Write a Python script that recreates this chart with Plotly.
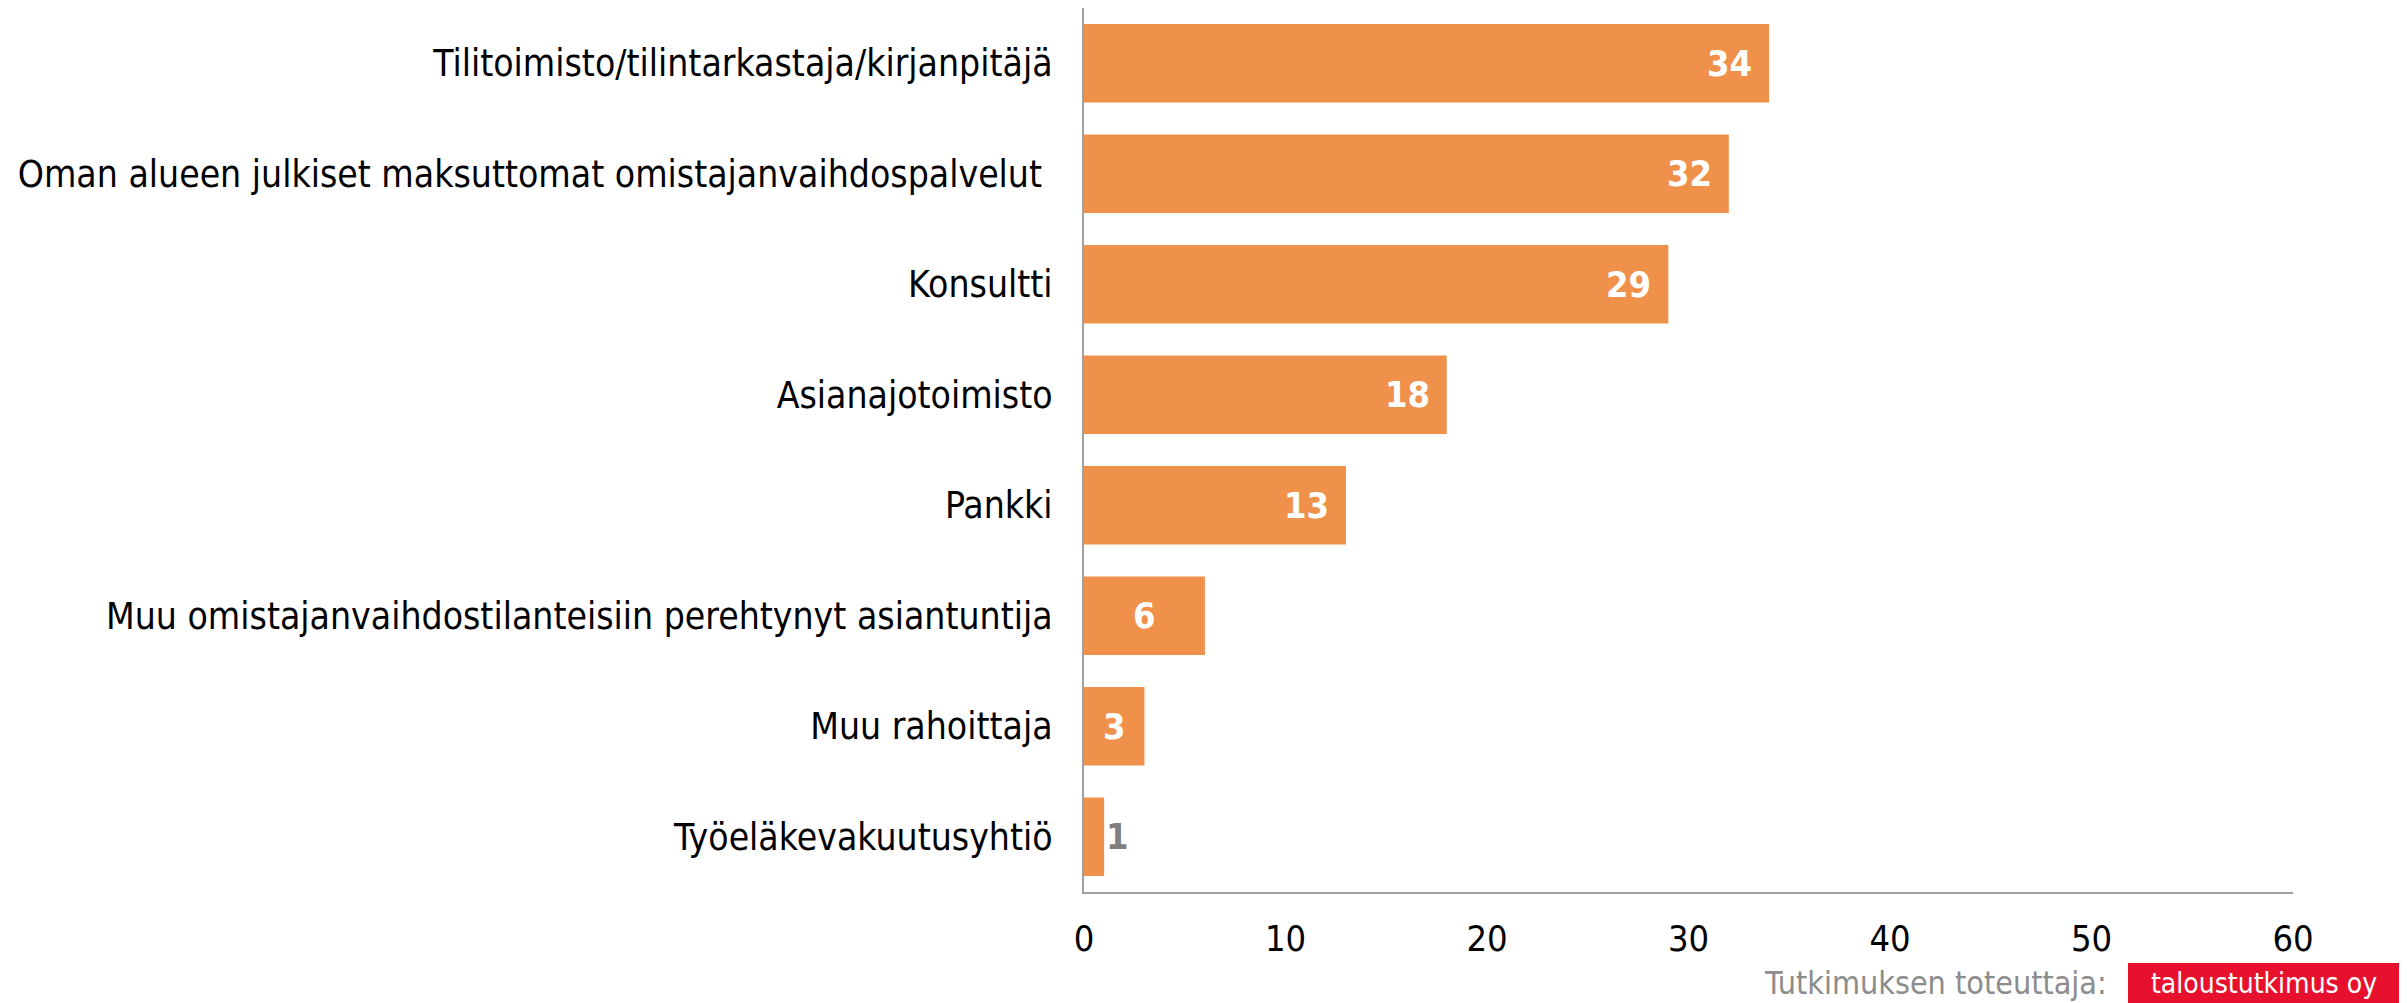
"""Horizontal bar chart: who helped with the ownership change."""
import plotly.graph_objects as go

categories = [
    "Tilitoimisto/tilintarkastaja/kirjanpitäjä",
    "Oman alueen julkiset maksuttomat omistajanvaihdospalvelut ",
    "Konsultti",
    "Asianajotoimisto",
    "Pankki",
    "Muu omistajanvaihdostilanteisiin perehtynyt asiantuntija",
    "Muu rahoittaja",
    "Työeläkevakuutusyhtiö",
]
values = [34, 32, 29, 18, 13, 6, 3, 1]
x_ticks = [0, 10, 20, 30, 40, 50, 60]

BAR_COLOR = "#F0914B"
AXIS_COLOR = "#A0A0A0"
FONT = "DejaVu Sans Condensed, Lato"

fig = go.Figure()
fig.add_trace(go.Bar(
    x=values,
    y=categories,
    orientation="h",
    marker=dict(color=BAR_COLOR, line=dict(width=0)),
    hoverinfo="x+y",
))

# value labels: inside end for wide bars, centred for narrow ones, outside for tiny
for cat, val in zip(categories, values):
    if val >= 10:
        fig.add_annotation(x=val, y=cat, text=str(val), showarrow=False,
                           xanchor="right", xshift=-15,
                           font=dict(family=FONT, size=36, color="white", weight="bold"))
    elif val >= 3:
        fig.add_annotation(x=val / 2, y=cat, text=str(val), showarrow=False,
                           xanchor="center",
                           font=dict(family=FONT, size=36, color="white", weight="bold"))
    else:
        fig.add_annotation(x=val, y=cat, text=str(val), showarrow=False,
                           xanchor="left", xshift=0,
                           font=dict(family=FONT, size=36, color="#7F7F7F", weight="bold"))

# page body has an 8px margin, so the figure is a bit smaller than the window
fig.update_layout(
    width=2399,
    height=995,
    margin=dict(l=1076, r=114, t=0, b=111),
    paper_bgcolor="white",
    plot_bgcolor="white",
    bargap=0.29,
    showlegend=False,
    font=dict(family=FONT, size=37, color="black"),
)
fig.update_xaxes(
    range=[0, 60],
    tickvals=x_ticks,
    showgrid=False,
    zeroline=False,
    showline=True,
    linecolor=AXIS_COLOR,
    linewidth=2,
    ticks="",
    ticklabelstandoff=14,
    tickfont=dict(family=FONT, size=36, color="black"),
)
fig.update_yaxes(
    autorange="reversed",
    showgrid=False,
    zeroline=False,
    showline=True,
    linecolor=AXIS_COLOR,
    linewidth=2,
    ticks="",
    ticklabelstandoff=22,
    tickfont=dict(family=FONT, size=37, color="black"),
)

# footer credit
fig.add_annotation(xref="paper", yref="paper", x=0.848, y=-0.103,
                   text="Tutkimuksen toteuttaja:", showarrow=False,
                   xanchor="right", yanchor="middle",
                   font=dict(family=FONT, size=32, color="#8C8C8C"))
fig.add_shape(type="rect", xref="paper", yref="paper",
              x0=0.8635, x1=1.0893, y0=-0.0803, y1=-0.13,
              fillcolor="#E8112D", line=dict(width=0), layer="above")
fig.add_annotation(xref="paper", yref="paper", x=0.976, y=-0.103,
                   text="taloustutkimus oy", showarrow=False,
                   xanchor="center", yanchor="middle",
                   font=dict(family=FONT, size=28, color="white"))

fig.write_html("out.html")
